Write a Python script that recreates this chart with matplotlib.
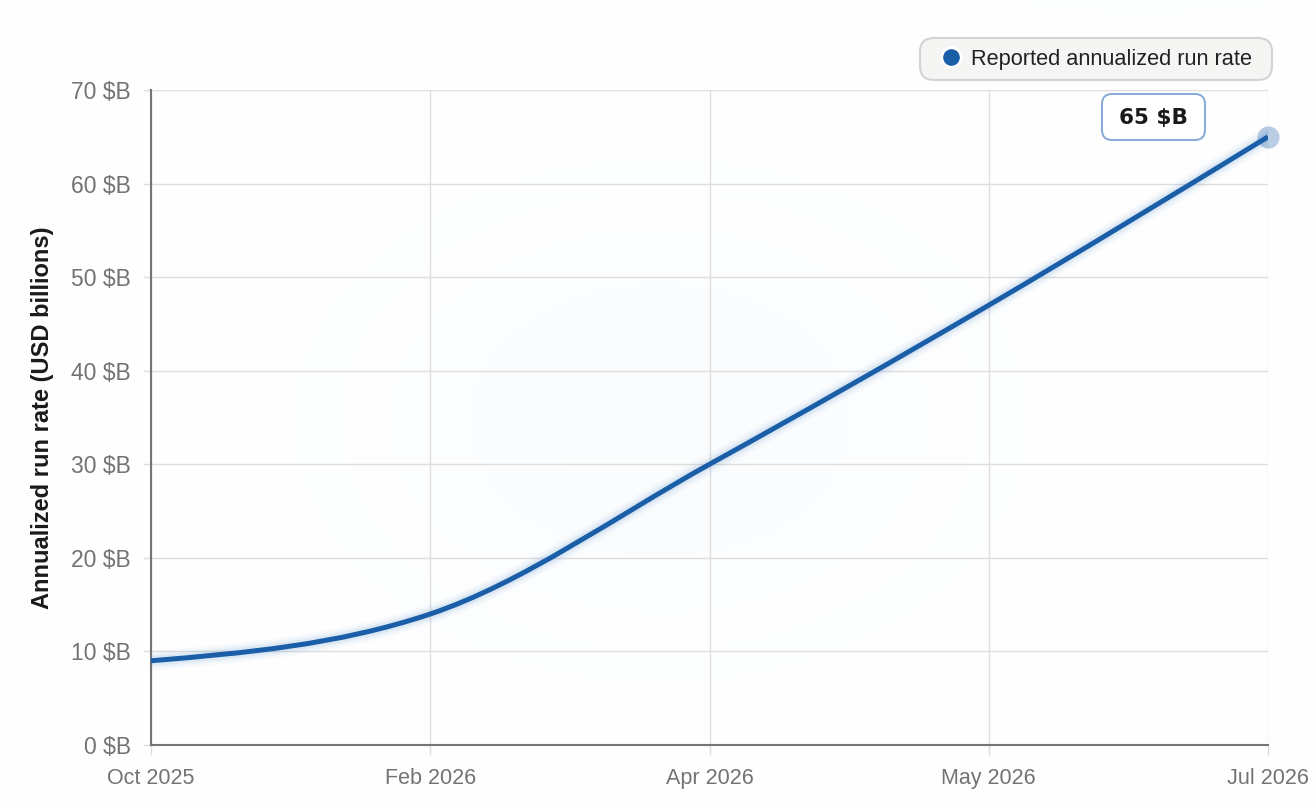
import numpy as np
import matplotlib
matplotlib.use('Agg')
import matplotlib.pyplot as plt
from matplotlib.path import Path
from matplotlib.patches import PathPatch, FancyBboxPatch
from matplotlib.lines import Line2D
from matplotlib.transforms import IdentityTransform

plt.rcParams['font.family'] = ['Liberation Sans', 'DejaVu Sans']

# data
months = ['Oct 2025', 'Feb 2026', 'Apr 2026', 'May 2026', 'Jul 2026']
run_rate = [9, 14, 30, 47, 65]
series_name = 'Reported annualized run rate'
y_ticks = [0, 10, 20, 30, 40, 50, 60, 70]

line_color = '#1b5ea8'
grid_color = '#dedede'
axis_color = '#757575'
tick_text = '#737373'

W, H = 1316, 808
fig = plt.figure(figsize=(W / 100, H / 100), dpi=100)

# soft background glow
bg = fig.add_axes([0, 0, 1, 1], zorder=-10)
yy, xx = np.mgrid[0:H, 0:W]
g1 = np.exp(-(((xx - 660) / 300.0) ** 2 + ((yy - 420) / 215.0) ** 2))
g2 = np.exp(-(((xx - 1150) / 300.0) ** 2 + ((yy + 30) / 70.0) ** 2))
g = np.clip(0.09 * g1 + 0.03 * g2, 0, 1)
tint = np.array([0.80, 0.87, 0.95])
img = 1 - g[..., None] * (1 - tint)
bg.imshow(img, extent=[0, 1, 0, 1], aspect='auto', interpolation='bilinear')
bg.axis('off')

ax = fig.add_axes([151 / W, 1 - 745 / H, (1268 - 151) / W, (745 - 90) / H])
ax.patch.set_alpha(0)

x = np.arange(len(months), dtype=float)
y = np.array(run_rate, dtype=float)


# monotone cubic (like d3 curveMonotoneX) built as bezier path
def monotone_path(xs, ys):
    h = np.diff(xs)
    s = np.diff(ys) / h
    n = len(xs)
    t = np.zeros(n)
    for i in range(1, n - 1):
        p = (s[i - 1] * h[i] + s[i] * h[i - 1]) / (h[i - 1] + h[i])
        t[i] = (np.sign(s[i - 1]) + np.sign(s[i])) * min(abs(s[i - 1]), abs(s[i]), 0.5 * abs(p))
    t[0] = (3 * s[0] - t[1]) / 2
    t[-1] = (3 * s[-1] - t[-2]) / 2
    verts = [(xs[0], ys[0])]
    codes = [Path.MOVETO]
    for i in range(n - 1):
        dx = (xs[i + 1] - xs[i]) / 3
        verts += [(xs[i] + dx, ys[i] + dx * t[i]),
                  (xs[i + 1] - dx, ys[i + 1] - dx * t[i + 1]),
                  (xs[i + 1], ys[i + 1])]
        codes += [Path.CURVE4] * 3
    return Path(verts, codes)


path = monotone_path(x, y)
for lw, a in [(14, 0.04), (10, 0.06), (7, 0.09)]:
    ax.add_patch(PathPatch(path, facecolor='none', edgecolor='#4a86c8', lw=lw,
                           alpha=a, capstyle='round', zorder=3))
ax.add_patch(PathPatch(path, facecolor='none', edgecolor=line_color, lw=3.6,
                       capstyle='butt', joinstyle='round', zorder=4))

# highlight last point
ax.plot(x[-1], y[-1], 'o', ms=16, color=line_color, alpha=0.3, mec='none',
        clip_on=False, zorder=5)
ax.annotate(f'{run_rate[-1]} $B', xy=(x[-1], y[-1]), xytext=(-115, 19),
            textcoords='offset pixels', ha='center', va='center',
            fontsize=15.5, fontweight='bold', family='DejaVu Sans', color='#1a1a1a',
            zorder=7)
# value label box (pixel coords, y from bottom)
label_box = FancyBboxPatch((1102, H - 140), 103, 46,
                           boxstyle='round,pad=0,rounding_size=10',
                           transform=IdentityTransform(), fc='white', ec='#86aad8',
                           lw=1.4, zorder=6, clip_on=False)
ax.add_artist(label_box)

ax.set_xlim(0, len(months) - 1)
ax.set_ylim(0, 70)
ax.set_xticks(x)
ax.set_xticklabels(months)
ax.set_yticks(y_ticks)
ax.set_yticklabels([f'{v} $B' for v in y_ticks])

ax.grid(True, color=grid_color, lw=1.0, zorder=0)
ax.set_axisbelow(True)
for side in ['top', 'right']:
    ax.spines[side].set_visible(False)
for side in ['left', 'bottom']:
    ax.spines[side].set_color(axis_color)
    ax.spines[side].set_linewidth(1.5)
    ax.spines[side].set_zorder(2)

ax.tick_params(axis='x', length=7.5, width=1, color=grid_color, pad=9,
               labelsize=15.5, labelcolor=tick_text)
ax.tick_params(axis='y', length=5.5, width=1, color=grid_color, pad=9,
               labelsize=16.5, labelcolor=tick_text)

ax.set_ylabel('Annualized run rate (USD billions)', fontsize=17, fontweight='bold',
              color='#1a1a1a', labelpad=12)

# legend: frame drawn by hand so padding can differ per side
leg_box = FancyBboxPatch((920, H - 80), 352, 42,
                         boxstyle='round,pad=0,rounding_size=14',
                         transform=IdentityTransform(), fc='#f5f5f3', ec='#d3d3d3',
                         lw=1.5, zorder=4)
fig.patches.append(leg_box)
leg_box.set_figure(fig)

handle = Line2D([], [], marker='o', ls='none', ms=14, color=line_color,
                mec='white', mew=2)
leg = fig.legend([handle], [series_name], loc='center right',
                 bbox_to_anchor=(1252 / W, 1 - 59 / H), fontsize=15.7,
                 frameon=False, handlelength=0.9, handletextpad=0.47,
                 borderpad=0, borderaxespad=0)
leg.set_zorder(5)
for t in leg.get_texts():
    t.set_color('#222222')

fig.savefig('out.png', dpi=100)
